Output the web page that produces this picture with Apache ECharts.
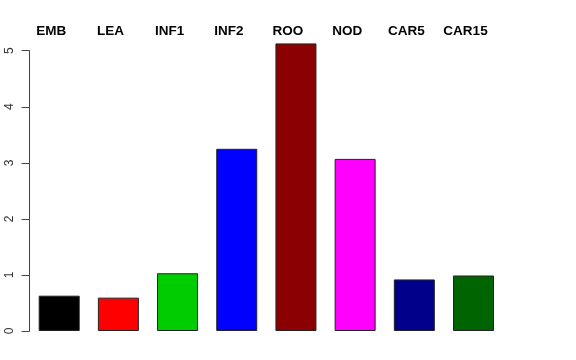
<!DOCTYPE html>
<html><head><meta charset="utf-8">
<script src="https://cdn.jsdelivr.net/npm/echarts@6/dist/echarts.min.js"></script>
<style>html,body{margin:0;padding:0;background:#fff}#c{width:576px;height:360px}</style>
</head><body><div id="c"></div>
<script>
var categories = ["EMB","LEA","INF1","INF2","ROO","NOD","CAR5","CAR15"];
var values = [0.63, 0.595, 1.03, 3.25, 5.13, 3.07, 0.92, 0.99];
var colors = ["#000000","#FF0000","#00CD00","#0000FF","#8B0000","#FF00FF","#00008B","#006400"];
var yTicks = [0,1,2,3,4,5];

var chart = echarts.init(document.getElementById('c'), null, {renderer:'canvas'});
chart.setOption({
  animation:false,
  backgroundColor:'#fff',
  grid:{left:29.6, width:473.5, top:50.7, bottom:29, containLabel:false},
  xAxis:{type:'category', data:categories, position:'top',
    axisLine:{show:false}, axisTick:{show:false},
    axisLabel:{color:'#000', fontFamily:'Liberation Sans, Arial, sans-serif', fontWeight:'bold', fontSize:13.5, margin:12, padding:[0,16,0,0], interval:0}},
  yAxis:{type:'value', min:yTicks[0], max:yTicks[yTicks.length-1], interval:1,
    splitLine:{show:false},
    axisLine:{show:true, lineStyle:{color:'#444', width:1}},
    axisTick:{show:true, length:8, lineStyle:{color:'#444'}},
    axisLabel:{color:'#333', fontFamily:'Liberation Sans, Arial, sans-serif', fontSize:12, rotate:90, margin:14}},
  series:[{type:'bar', clip:false, barWidth:41,
    data: values.map(function(v,i){return {value:v, itemStyle:{color:colors[i]}};}),
    itemStyle:{borderColor:'#222', borderWidth:1}}]
});
</script></body></html>
